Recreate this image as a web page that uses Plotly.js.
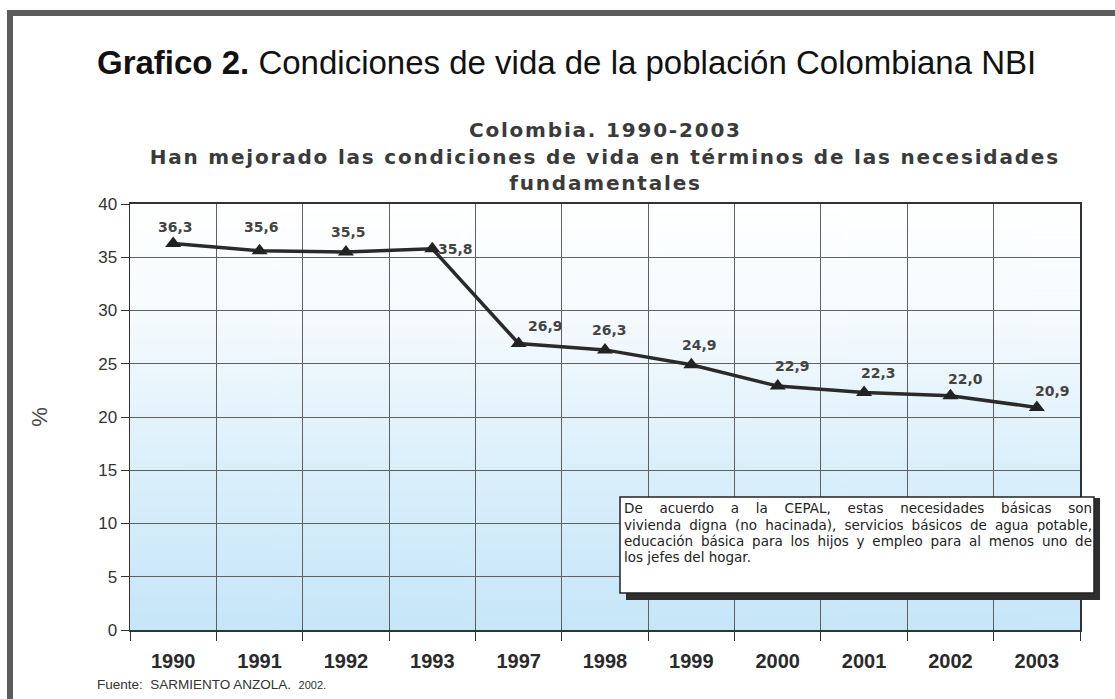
<!DOCTYPE html>
<html>
<head>
<meta charset="utf-8">
<script src="https://cdn.plot.ly/plotly-3.0.1.min.js"></script>
<style>
html,body{margin:0;padding:0;background:#fff;}
#chart{width:1115px;height:699px;}
</style>
</head>
<body>
<div id="chart"></div>
<script>
// ---- data ----
const years = ['1990','1991','1992','1993','1997','1998','1999','2000','2001','2002','2003'];
const nbi = [36.3, 35.6, 35.5, 35.8, 26.9, 26.3, 24.9, 22.9, 22.3, 22.0, 20.9];
const labels = ['36,3','35,6','35,5','35,8','26,9','26,3','24,9','22,9','22,3','22,0','20,9'];
const yTicks = [0, 5, 10, 15, 20, 25, 30, 35, 40];
const subtitleLines = [
  'Colombia. 1990-2003',
  'Han mejorado las condiciones de vida en términos de las necesidades',
  'fundamentales'
];
const noteLines = [
  'De acuerdo a la CEPAL, estas necesidades básicas son',
  'vivienda digna (no hacinada), servicios básicos de agua potable,',
  'educación básica para los hijos y empleo para al menos uno de',
  'los jefes del hogar.'
];

// ---- layout geometry (pixels) ----
const W = 1115, H = 699, L = 130, R = 1080, T = 204, B = 630;
const px = v => (v - L) / (R - L);
const py = v => (B - v) / (B - T);

// label placement (styling only)
const lblPos = [
  {xa:'center', xs:2,  ys:16},
  {xa:'center', xs:2,  ys:24},
  {xa:'center', xs:3,  ys:20},
  {xa:'left',   xs:4,  ys:0},
  {xa:'left',   xs:7,  ys:18},
  {xa:'center', xs:4,  ys:20},
  {xa:'center', xs:8,  ys:20},
  {xa:'center', xs:15, ys:20},
  {xa:'center', xs:14, ys:20},
  {xa:'center', xs:15, ys:17},
  {xa:'center', xs:16, ys:16}
];

function gradientURI(){
  const c = document.createElement('canvas');
  c.width = 10; c.height = 400;
  const g = c.getContext('2d');
  const gr = g.createLinearGradient(0,0,0,400);
  gr.addColorStop(0,'#ffffff');
  gr.addColorStop(0.25,'#f6fbfe');
  gr.addColorStop(0.6,'#dcf0fb');
  gr.addColorStop(1,'#c6e6f8');
  g.fillStyle = gr; g.fillRect(0,0,10,400);
  return c.toDataURL();
}

const FONT = 'Liberation Sans, Arial, sans-serif';
const WIDE = 'DejaVu Sans, sans-serif';

const trace = {
  x: years, y: nbi, type: 'scatter', mode: 'lines+markers',
  line: {color: '#2a2a2a', width: 3.5},
  marker: {symbol: 'triangle-up', size: 14, color: '#222'},
  hoverinfo: 'x+y', cliponaxis: false
};

const annotations = [];
years.forEach((yr, i) => {
  const p = lblPos[i];
  annotations.push({
    x: i, y: nbi[i], xref: 'x', yref: 'y', text: labels[i], showarrow: false,
    xanchor: p.xa, yanchor: 'middle', xshift: p.xs, yshift: p.ys,
    font: {family: WIDE, size: 14, color: '#444', weight: 'bold'}
  });
});

// main title
annotations.push({
  xref: 'paper', yref: 'paper', x: px(95), y: py(62), xanchor: 'left', yanchor: 'middle',
  text: '<b>Grafico 2.</b> Condiciones de vida de la población Colombiana NBI', showarrow: false,
  font: {family: FONT, size: 33, color: '#111'}
});
// subtitle lines
const subY = [130, 157, 183];
subtitleLines.forEach((s, i) => {
  annotations.push({
    xref: 'paper', yref: 'paper', x: px(605), y: py(subY[i]), xanchor: 'center', yanchor: 'middle',
    text: '<b>' + s + '</b>', showarrow: false,
    font: {family: WIDE, size: 20, color: '#3a3a3a'}
  });
});
// source
annotations.push({
  xref: 'paper', yref: 'paper', x: px(95), y: py(684), xanchor: 'left', yanchor: 'middle',
  text: 'Fuente:  SARMIENTO ANZOLA.  <span style="font-size:11px">2002.</span>', showarrow: false,
  font: {family: FONT, size: 13.5, color: '#333'}
});
// note box text
const noteY = [508, 525, 541, 557];
noteLines.forEach((s, i) => {
  annotations.push({
    xref: 'paper', yref: 'paper', x: px(622), y: py(noteY[i]), xanchor: 'left', yanchor: 'middle',
    text: s, showarrow: false, align: 'left',
    font: {family: WIDE, size: 13.5, color: '#222'}
  });
});

const shapes = [
  // outer frame
  {type:'rect', xref:'paper', yref:'paper', x0:px(7), x1:px(W+5), y0:py(16), y1:py(10),
   fillcolor:'#5c5c5c', line:{width:0}, layer:'above'},
  {type:'rect', xref:'paper', yref:'paper', x0:px(7), x1:px(13), y0:py(H+5), y1:py(10),
   fillcolor:'#5c5c5c', line:{width:0}, layer:'above'},
  // note shadow
  {type:'rect', xref:'paper', yref:'paper', x0:px(626), x1:px(1100), y0:py(600), y1:py(498),
   fillcolor:'#2e2e2e', line:{width:0}, layer:'above'},
  // note box
  {type:'rect', xref:'paper', yref:'paper', x0:px(620), x1:px(1094), y0:py(593), y1:py(497),
   fillcolor:'#ffffff', line:{color:'#222', width:1.5}, layer:'above'}
];

const layout = {
  width: W, height: H,
  margin: {l: L, r: W - R, t: T, b: H - B},
  paper_bgcolor: '#ffffff', plot_bgcolor: 'rgba(0,0,0,0)',
  showlegend: false,
  font: {family: FONT, color: '#333'},
  images: [{source: gradientURI(), xref:'paper', yref:'paper', x:0, y:1, sizex:1, sizey:1,
            sizing:'stretch', xanchor:'left', yanchor:'top', layer:'below'}],
  xaxis: {
    type: 'category', tickson: 'boundaries', ticks: 'outside', ticklen: 9, tickcolor: '#333',
    ticklabelstandoff: 12,
    showgrid: true, gridcolor: '#606060', gridwidth: 1,
    showline: true, linecolor: '#333', linewidth: 2, mirror: true,
    tickfont: {family: FONT, size: 20, color: '#2a2a2a', weight: 'bold'},
    range: [-0.5, 10.5], fixedrange: true
  },
  yaxis: {
    range: [0, 40], tickvals: yTicks, ticktext: yTicks.map(String),
    ticks: 'outside', ticklen: 8, tickcolor: '#333',
    showgrid: true, gridcolor: '#606060', gridwidth: 1, zeroline: false,
    showline: true, linecolor: '#333', linewidth: 1.5, mirror: true,
    tickfont: {family: FONT, size: 17, color: '#333'},
    title: {text: '%', font: {family: FONT, size: 22, color: '#444'}, standoff: 44},
    fixedrange: true
  },
  annotations: annotations,
  shapes: shapes
};

Plotly.newPlot('chart', [trace], layout, {displayModeBar: false, staticPlot: true}).then(() => {
  const texts = document.querySelectorAll('#chart .annotation-text');
  texts.forEach(t => {
    const s = t.textContent;
    // justify the first three note lines (word spacing only)
    const idx = noteLines.indexOf(s);
    if (idx >= 0 && idx < 3) {
      const target = 1090 - 622;
      const len = t.getComputedTextLength();
      const spaces = (s.match(/ /g) || []).length;
      if (spaces > 0 && len < target) {
        t.style.wordSpacing = ((target - len) / spaces).toFixed(2) + 'px';
      }
    }
    // widen subtitle tracking to the reference's spread
    if (subtitleLines.indexOf(s) >= 0) {
      t.style.letterSpacing = '1.8px';
    }
  });
});
</script>
</body>
</html>
